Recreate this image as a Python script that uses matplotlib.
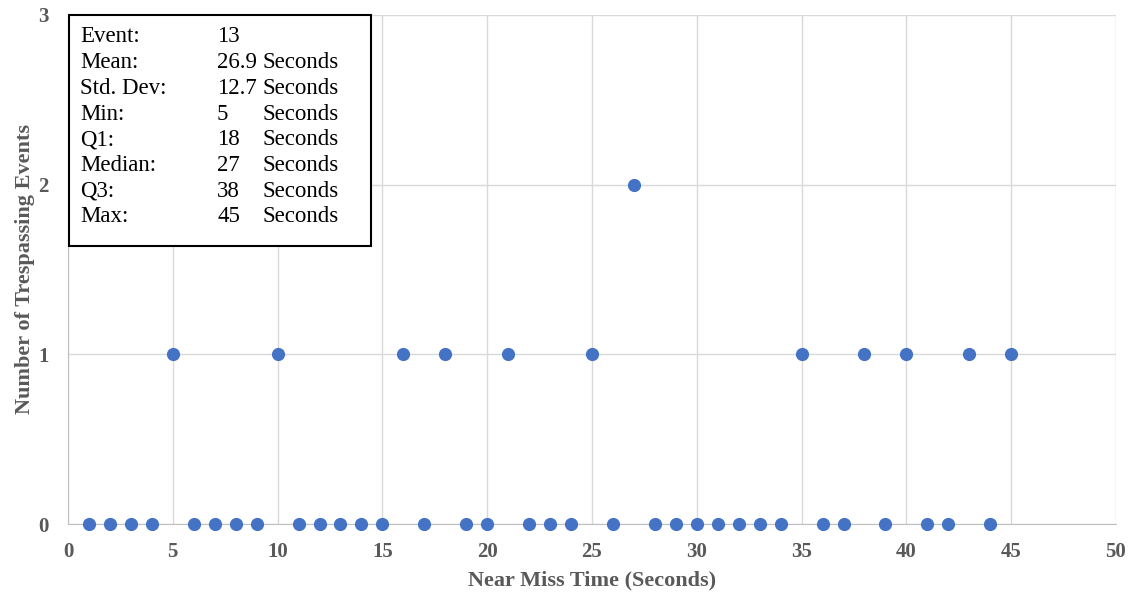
import matplotlib.pyplot as plt
from matplotlib.patches import Rectangle

# near miss time (s) and number of trespassing events at each second
times = list(range(1, 46))
events = [0, 0, 0, 0, 1, 0, 0, 0, 0, 1,
          0, 0, 0, 0, 0, 1, 0, 1, 0, 0,
          1, 0, 0, 0, 1, 0, 2, 0, 0, 0,
          0, 0, 0, 0, 1, 0, 0, 1, 0, 1,
          0, 0, 1, 0, 1]

stat_names = ['Event:', 'Mean:', 'Std. Dev:', 'Min:', 'Q1:', 'Median:', 'Q3:', 'Max:']
stat_values = ['13', '26.9', '12.7', '5', '18', '27', '38', '45']
stat_units = ['', 'Seconds', 'Seconds', 'Seconds', 'Seconds', 'Seconds', 'Seconds', 'Seconds']

plt.rcParams['font.family'] = ['Liberation Serif', 'DejaVu Serif']
grey = '#595959'

fig = plt.figure(figsize=(11.32, 5.98), dpi=100)
ax = fig.add_axes([68 / 1132, 1 - 524 / 598, 1048 / 1132, 509 / 598])

ax.scatter(times, events, s=72, color='#4472C4', zorder=3, clip_on=False)

ax.set_xlim(0, 50)
ax.set_ylim(0, 3)
ax.set_xticks(range(0, 51, 5))
ax.set_yticks([0, 1, 2, 3])
ax.grid(True, color='#d9d9d9', linewidth=1)
ax.set_axisbelow(True)
for side in ['top', 'right']:
    ax.spines[side].set_visible(False)
for side in ['left', 'bottom']:
    ax.spines[side].set_color('#bfbfbf')
ax.tick_params(length=0, labelsize=15, labelcolor=grey)
ax.tick_params(axis='x', pad=13)
ax.tick_params(axis='y', pad=14)
for lbl in ax.get_xticklabels() + ax.get_yticklabels():
    lbl.set_fontweight('bold')

ax.set_xlabel('Near Miss Time (Seconds)', fontsize=16, fontweight='bold', color=grey, labelpad=6)
ax.set_ylabel('Number of Trespassing Events', fontsize=16, fontweight='bold', color=grey, labelpad=2)

# stats box
box = Rectangle((1 / 1048, 1 - 231 / 509), 302 / 1048, 231 / 509, transform=ax.transAxes,
                facecolor='white', edgecolor='black', linewidth=1.5, zorder=5, clip_on=False)
ax.add_patch(box)
for i in range(len(stat_names)):
    py = 37 + i * 25.7
    yf = (524 - py) / 509
    ax.text(12 / 1048, yf, stat_names[i], transform=ax.transAxes, fontsize=16.5, va='center', zorder=6)
    ax.text(149 / 1048, yf, stat_values[i], transform=ax.transAxes, fontsize=16.5, va='center', zorder=6)
    ax.text(194 / 1048, yf, stat_units[i], transform=ax.transAxes, fontsize=16.5, va='center', zorder=6)

fig.savefig('out.png', dpi=100)
